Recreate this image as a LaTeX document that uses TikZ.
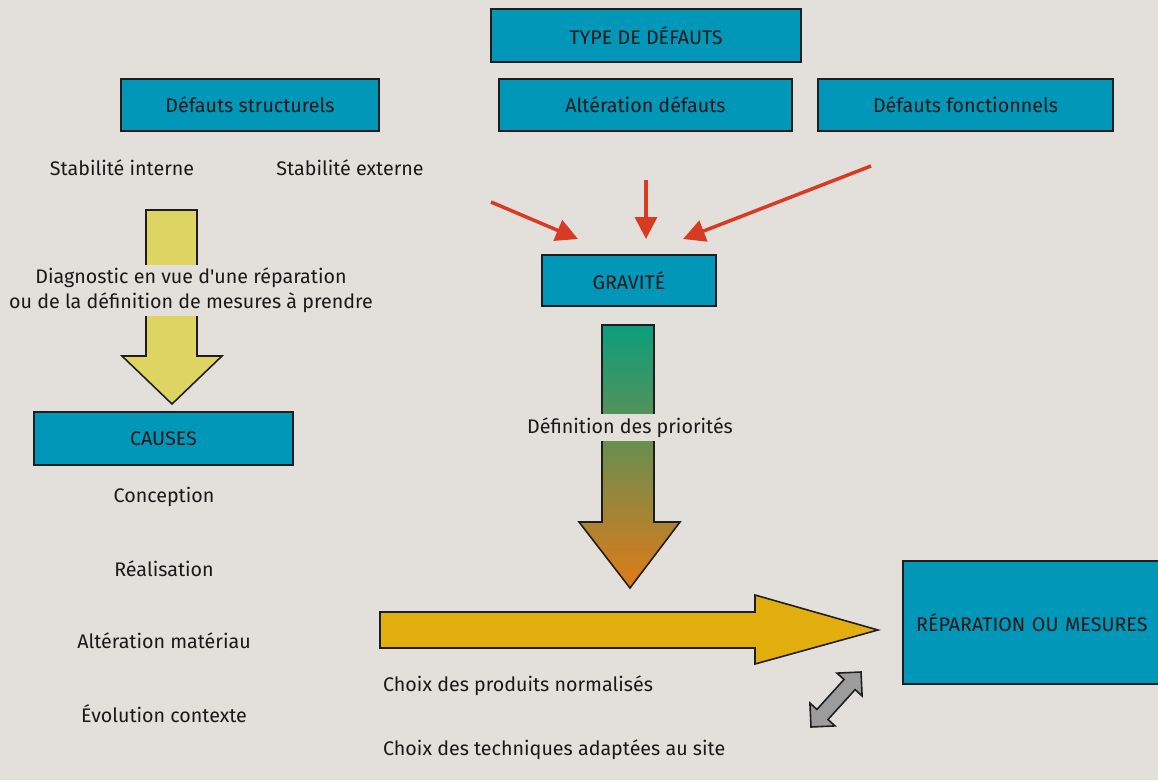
\documentclass[tikz,border=0pt]{standalone}
\usepackage{fontspec}
\setmainfont{Fira Sans}
\usetikzlibrary{arrows.meta}
\definecolor{bg}{HTML}{E3DFDA}
\definecolor{boxc}{HTML}{0097B9}
\definecolor{edge}{HTML}{1E1E1E}
\definecolor{redar}{HTML}{D93A22}
\definecolor{yel}{HTML}{DDD462}
\definecolor{gold}{HTML}{E2AE0E}
\definecolor{grn}{HTML}{0A9E7C}
\definecolor{mid}{HTML}{A08E48}
\definecolor{org}{HTML}{E07A18}
\definecolor{gry}{HTML}{9C9C9C}
\tikzset{
  box/.style={draw=edge, line width=1.2pt, fill=boxc, inner sep=0pt,
    font=\fontsize{11.2}{13.5}\selectfont, text=black!90},
  lbl/.style={font=\fontsize{11.2}{13.5}\selectfont, text=black!90, inner sep=1pt},
  lblbg/.style={lbl, fill=bg, align=center, inner xsep=0pt, inner ysep=2pt,
    font=\fontsize{11.2}{14}\selectfont},
  redarrow/.style={draw=redar, line width=2pt, -{Triangle[length=12.5pt,width=12.5pt]}},
  bigarrow/.style={draw=edge, line width=0.9pt, line join=miter},
}
\begin{document}
\begin{tikzpicture}[x=0.02cm,y=-0.02cm]
\fill[bg] (0,0) rectangle (1158,780);
\useasboundingbox (0,0) rectangle (1158,780);

% boxes
\node[box, minimum width=6.2cm, minimum height=1.06cm] (typ) at (646,35.5) {TYPE DE DÉFAUTS};
\node[box, minimum width=5.16cm, minimum height=1.04cm] (struct) at (250,105) {Défauts structurels};
\node[box, minimum width=5.86cm, minimum height=1.04cm] (alt) at (645.5,105) {Altération défauts};
\node[box, minimum width=5.9cm, minimum height=1.04cm] (fonc) at (965.5,105) {Défauts fonctionnels};
\node[box, minimum width=3.48cm, minimum height=1.02cm] (grav) at (629,280.5) {GRAVITÉ};
\node[box, minimum width=5.18cm, minimum height=1.06cm] (causes) at (163.5,438.5) {CAUSES};
\node[box, minimum width=5.34cm, minimum height=2.46cm, text width=5.34cm, align=left] (rep) at (1036.5,622.5) {\hspace*{7.5pt}RÉPARATION OU MESURES};

% labels
\node[lbl] (si) at (122,168) {Stabilité interne};
\node[lbl] (se) at (350,168) {Stabilité externe};
\node[lbl] (c1) at (164,497) {Conception};
\node[lbl] (c2) at (164,569) {Réalisation};
\node[lbl] (c3) at (164,641) {Altération matériau};
\node[lbl] (c4) at (164,714) {Évolution contexte};
\node[lbl, anchor=west] (ch1) at (381,686) {Choix des produits normalisés};
\node[lbl, anchor=west] (ch2) at (381,750) {Choix des techniques adaptées au site};

% red arrows
\coordinate (r1) at (491,202);
\coordinate (r2) at (646,180);
\coordinate (r3) at (871,166);
\coordinate (t1) at (578,239);
\coordinate (t2) at (646,239);
\coordinate (t3) at (683,239);
\draw[redarrow] (r1) -- (t1);
\draw[redarrow] (r2) -- (t2);
\draw[redarrow] (r3) -- (t3);

% yellow arrow (left)
\filldraw[bigarrow, fill=yel] (146,210) -- (197,210) -- (197,356) -- (222,356) -- (172,404) -- (122,356) -- (146,356) -- cycle;
\node[lblbg] (diag) at (191,290.5) {Diagnostic en vue d\textquotesingle une réparation\\ou de la définition de mesures à prendre};

% gradient arrow
\shadedraw[bigarrow, top color=grn, middle color=mid, bottom color=org] (602,325) -- (654,325) -- (654,522) -- (680,522) -- (630,588) -- (579,522) -- (602,522) -- cycle;
\node[lblbg] (prio) at (630,427.5) {Définition des priorités};

% horizontal arrow
\filldraw[bigarrow, fill=gold] (380,612) -- (755,612) -- (755,595) -- (878,630) -- (755,664) -- (755,648) -- (380,648) -- cycle;

% gray double arrow
\filldraw[bigarrow, fill=gry] (861,672) -- (862.1,696.0) -- (855.1,689.6) -- (828.0,719.5) -- (835.0,725.9) -- (811,727) -- (809.9,703.0) -- (816.9,709.4) -- (844.0,679.5) -- (837.0,673.1) -- cycle;
\end{tikzpicture}
\end{document}
